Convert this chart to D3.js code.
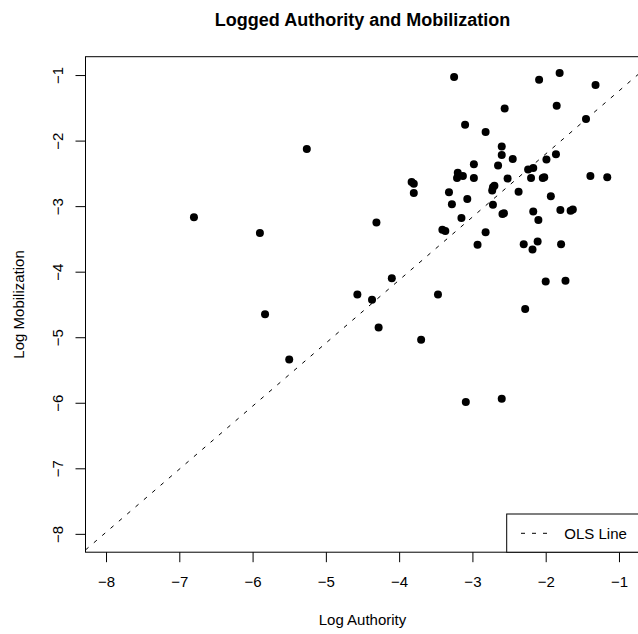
<!DOCTYPE html>
<html>
<head>
<meta charset="utf-8">
<script src="https://cdn.jsdelivr.net/npm/d3@7/dist/d3.min.js"></script>
<style>
  html, body { margin: 0; padding: 0; background: #fff; }
  svg { display: block; font-family: "Liberation Sans", Arial, Helvetica, sans-serif; }
</style>
</head>
<body>
<svg id="chart" width="638" height="634"></svg>
<script>
// ---- data ----
const chartTitle = "Logged Authority and Mobilization";
const xLabel = "Log Authority";
const yLabel = "Log Mobilization";
const xTicks = [-8, -7, -6, -5, -4, -3, -2, -1];
const yTicks = [-8, -7, -6, -5, -4, -3, -2, -1];
const axisLimits = [-8, -1];
const logAuthority = [
  -3.25, -2.09, -1.81, -1.32, -2.56, -1.85, -3.10, -2.82, -1.45, -5.26,
  -2.60, -2.60, -2.45, -2.98, -2.65, -1.86, -1.99, -2.24, -2.17, -3.20,
  -3.13, -3.21, -2.98, -2.52, -2.20, -2.04, -2.02, -1.39, -1.16, -3.83,
  -3.80, -3.80, -2.72, -2.70, -2.73, -3.32, -2.37, -3.07, -1.93, -3.28,
  -2.72, -2.59, -2.57, -2.17, -1.80, -1.66, -1.63, -3.15, -2.10, -3.41,
  -3.37, -2.82, -2.93, -2.30, -2.11, -2.18, -1.79, -2.00, -1.73, -3.47,
  -2.28, -3.70, -2.60, -3.09, -4.31, -4.10, -4.57, -4.37, -4.28, -5.50,
  -6.80, -5.90, -5.83
];
const logMobilization = [
  -1.03, -1.07, -0.97, -1.15, -1.51, -1.47, -1.76, -1.87, -1.67, -2.13,
  -2.09, -2.22, -2.28, -2.36, -2.38, -2.21, -2.29, -2.44, -2.42, -2.49,
  -2.54, -2.57, -2.57, -2.58, -2.57, -2.57, -2.56, -2.54, -2.56, -2.63,
  -2.66, -2.80, -2.71, -2.69, -2.76, -2.79, -2.78, -2.89, -2.85, -2.97,
  -2.98, -3.12, -3.11, -3.08, -3.06, -3.07, -3.05, -3.18, -3.21, -3.36,
  -3.38, -3.40, -3.59, -3.58, -3.54, -3.66, -3.58, -4.15, -4.14, -4.35,
  -4.57, -5.04, -5.94, -5.99, -3.25, -4.10, -4.35, -4.43, -4.85, -5.34,
  -3.17, -3.41, -4.65
];
const olsIntercept = -0.28;
const olsSlope = 0.962;
const legendLabels = ["OLS Line"];

// ---- layout ----
const svg = d3.select("#chart");
const plotLeft = 85.5, plotRight = 639.5, plotTop = 56.7, plotBottom = 552.2;
const fontSize = 15;

// R-style 4% expansion
const pad = (axisLimits[1] - axisLimits[0]) * 0.04;
const dom = [axisLimits[0] - pad, axisLimits[1] + pad];

const x = d3.scaleLinear().domain(dom).range([plotLeft, plotRight]);
const y = d3.scaleLinear().domain(dom).range([plotBottom, plotTop]);

svg.append("defs").append("clipPath").attr("id", "plotclip")
  .append("rect")
  .attr("x", plotLeft).attr("y", plotTop)
  .attr("width", plotRight - plotLeft).attr("height", plotBottom - plotTop);

// points
const pts = logAuthority.map((v, i) => ({ a: v, m: logMobilization[i] }));
svg.append("g")
  .selectAll("circle")
  .data(pts)
  .enter().append("circle")
  .attr("cx", d => x(d.a))
  .attr("cy", d => y(d.m))
  .attr("r", 4)
  .attr("fill", "#000");

// OLS line
const lineGen = d3.line().x(d => x(d)).y(d => y(olsIntercept + olsSlope * d));
svg.append("path")
  .attr("clip-path", "url(#plotclip)")
  .attr("d", lineGen(dom))
  .attr("fill", "none")
  .attr("stroke", "#000")
  .attr("stroke-width", 1)
  .attr("stroke-dasharray", "4,7");

// box
svg.append("rect")
  .attr("x", plotLeft).attr("y", plotTop)
  .attr("width", plotRight - plotLeft).attr("height", plotBottom - plotTop)
  .attr("fill", "none").attr("stroke", "#000").attr("stroke-width", 1);

// x axis
const xAxis = svg.append("g")
  .attr("transform", `translate(0,${plotBottom})`)
  .call(d3.axisBottom(x).tickValues(xTicks).tickSize(10).tickPadding(14.5)
        .tickFormat(d => d3.format("d")(d)));
xAxis.select(".domain").remove();
xAxis.selectAll("text")
  .attr("font-size", fontSize)
  .attr("font-family", "Liberation Sans, Arial, sans-serif")
  .attr("fill", "#000");

// y axis
const yAxis = svg.append("g")
  .attr("transform", `translate(${plotLeft},0)`)
  .call(d3.axisLeft(y).tickValues(yTicks).tickSize(10)
        .tickFormat(d => d3.format("d")(d)));
yAxis.select(".domain").remove();
yAxis.selectAll("text")
  .attr("transform", "rotate(-90)")
  .attr("x", 0)
  .attr("y", -22.8)
  .attr("dy", 0)
  .attr("text-anchor", "middle")
  .attr("font-size", fontSize)
  .attr("font-family", "Liberation Sans, Arial, sans-serif")
  .attr("fill", "#000");

// title
svg.append("text")
  .attr("x", (plotLeft + plotRight) / 2)
  .attr("y", 26)
  .attr("text-anchor", "middle")
  .attr("font-weight", "bold")
  .attr("font-size", 18)
  .text(chartTitle);

// axis labels
svg.append("text")
  .attr("x", (plotLeft + plotRight) / 2)
  .attr("y", 625)
  .attr("text-anchor", "middle")
  .attr("font-size", fontSize)
  .text(xLabel);

svg.append("text")
  .attr("transform", `translate(24,${(plotTop + plotBottom) / 2}) rotate(-90)`)
  .attr("text-anchor", "middle")
  .attr("font-size", fontSize)
  .text(yLabel);

// legend
const lg = svg.append("g");
lg.append("rect")
  .attr("x", 506.7).attr("y", 514)
  .attr("width", plotRight - 506.7).attr("height", plotBottom - 514)
  .attr("fill", "#fff").attr("stroke", "#000").attr("stroke-width", 1);
legendLabels.forEach((lab, i) => {
  lg.append("line")
    .attr("x1", 521).attr("x2", 548)
    .attr("y1", 533.3 + i * 18).attr("y2", 533.3 + i * 18)
    .attr("stroke", "#000").attr("stroke-width", 1)
    .attr("stroke-dasharray", "4,7");
  lg.append("text")
    .attr("x", 564.3).attr("y", 538.7 + i * 18)
    .attr("font-size", fontSize)
    .text(lab);
});
</script>
</body>
</html>
